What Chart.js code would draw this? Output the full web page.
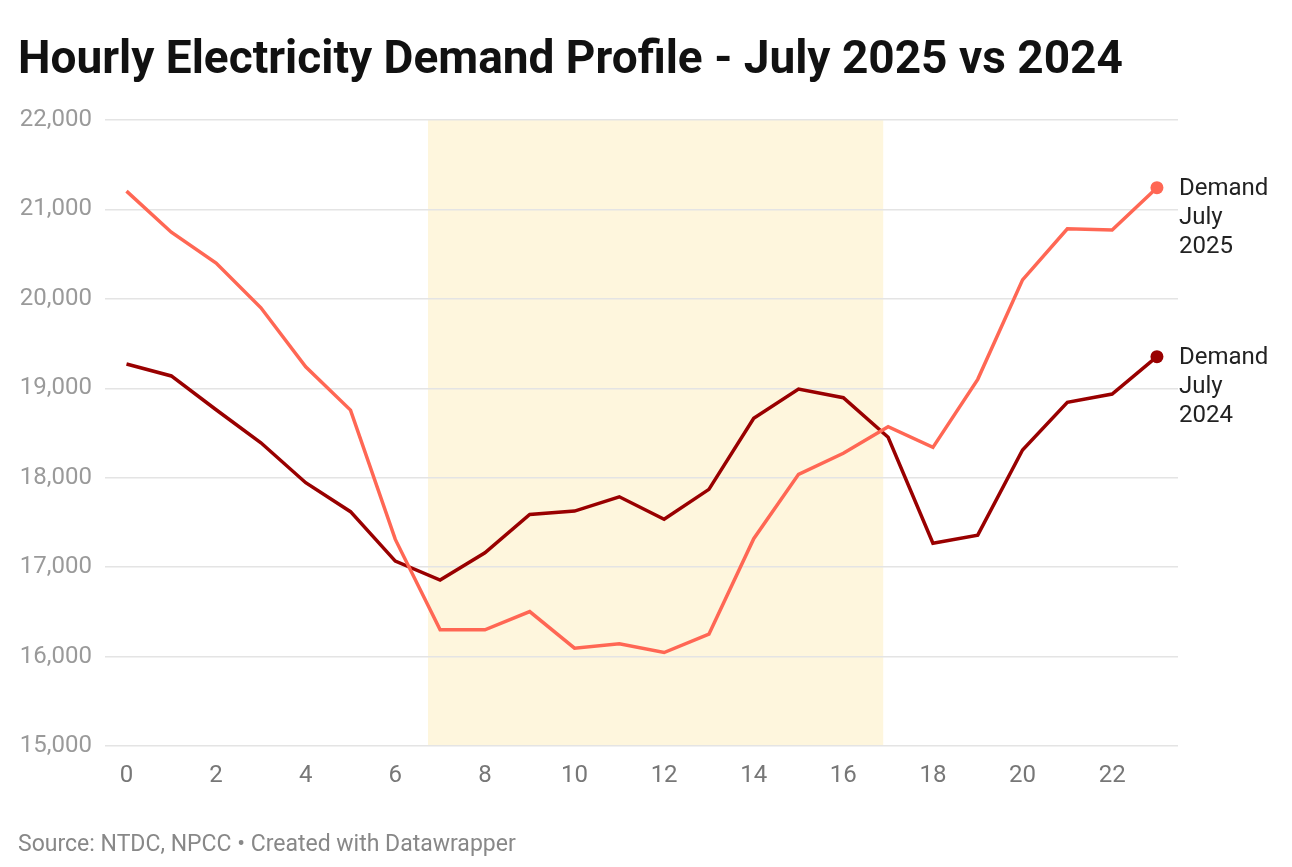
<!DOCTYPE html>
<html>
<head>
<meta charset="utf-8">
<script src="https://cdn.jsdelivr.net/npm/chart.js@4.4.1/dist/chart.umd.min.js"></script>
<style>
  body { margin: 0; background: #fff; font-family: Roboto, "Noto Sans", sans-serif; }
  #wrap { position: relative; width: 1292px; height: 867px; }
  #titulo { position: absolute; left: 18px; top: 34px; font-size: 46px; line-height: 46px; font-weight: 700; color: #111; white-space: nowrap; }
  #fuente { position: absolute; left: 18px; top: 832px; font-size: 23px; line-height: 23px; color: #888; white-space: nowrap; }
  canvas { position: absolute; left: 0; top: 0; }
</style>
</head>
<body>
<div id="wrap">
  <canvas id="grafica" width="1292" height="867"></canvas>
  <div id="titulo">Hourly Electricity Demand Profile - July 2025 vs 2024</div>
  <div id="fuente">Source: NTDC, NPCC • Created with Datawrapper</div>
</div>
<script>
// datos
var horas = [0, 1, 2, 3, 4, 5, 6, 7, 8, 9, 10, 11, 12, 13, 14, 15, 16, 17, 18, 19, 20, 21, 22, 23];
var demanda2025 = [21205, 20745, 20400, 19900, 19240, 18756, 17310, 16299, 16299, 16503, 16094, 16142,
  16045, 16250, 17318, 18038, 18273, 18571, 18339, 19100, 20212, 20784, 20769, 21243];
var demanda2024 = [19272, 19138, 18760, 18391, 17944, 17620, 17068, 16855, 17161, 17590, 17627, 17787,
  17535, 17870, 18664, 18992, 18895, 18452, 17268, 17358, 18310, 18843, 18936, 19353];
var etiquetas2025 = ["Demand", "July", "2025"];
var etiquetas2024 = ["Demand", "July", "2024"];
var ticksX = [0, 2, 4, 6, 8, 10, 12, 14, 16, 18, 20, 22];
var ticksY = [15000, 16000, 17000, 18000, 19000, 20000, 21000, 22000];
var franjaInicio = 6.73; // zona sombreada
var franjaFin = 16.89;

var fuente = "Roboto, 'Noto Sans', sans-serif";

function puntos(valores) {
  return valores.map((v, i) => ({ x: horas[i], y: v }));
}

// solo el ultimo punto lleva circulo
function radioFinal(ctx) {
  return ctx.dataIndex === horas.length - 1 ? 6.5 : 0;
}

// franja amarilla de fondo
var pluginFranja = {
  id: "franja",
  beforeDraw(chart) {
    const { ctx, chartArea, scales } = chart;
    const x1 = scales.x.getPixelForValue(franjaInicio);
    const x2 = scales.x.getPixelForValue(franjaFin);
    ctx.save();
    ctx.fillStyle = "#fef6dd";
    ctx.fillRect(x1, chartArea.top, x2 - x1, chartArea.bottom - chartArea.top);
    ctx.restore();
  },
};

// etiquetas al final de cada linea
var pluginEtiquetas = {
  id: "etiquetas",
  afterDatasetsDraw(chart) {
    const ctx = chart.ctx;
    ctx.save();
    ctx.font = "24px " + fuente;
    ctx.fillStyle = "#222";
    ctx.textBaseline = "middle";
    chart.data.datasets.forEach((ds, i) => {
      const meta = chart.getDatasetMeta(i);
      const ultimo = meta.data[meta.data.length - 1];
      ds.etiquetas.forEach((linea, j) => {
        ctx.fillText(linea, ultimo.x + 22, ultimo.y + 1 + j * 29);
      });
    });
    ctx.restore();
  },
};

var ctx = document.getElementById("grafica").getContext("2d");

new Chart(ctx, {
  type: "line",
  data: {
    datasets: [
      {
        label: "Demand July 2025",
        data: puntos(demanda2025),
        borderColor: "#ff6754",
        backgroundColor: "#ff6754",
        borderWidth: 3.5,
        pointRadius: radioFinal,
        pointHoverRadius: radioFinal,
        pointBorderWidth: 0,
        tension: 0,
        etiquetas: etiquetas2025,
      },
      {
        label: "Demand July 2024",
        data: puntos(demanda2024),
        borderColor: "#990000",
        backgroundColor: "#990000",
        borderWidth: 3.5,
        pointRadius: radioFinal,
        pointHoverRadius: radioFinal,
        pointBorderWidth: 0,
        tension: 0,
        etiquetas: etiquetas2024,
      },
    ],
  },
  options: {
    responsive: false,
    animation: false,
    layout: { padding: { top: 120, right: 114, bottom: 71, left: 0 } },
    plugins: {
      legend: { display: false },
      tooltip: { enabled: false },
    },
    scales: {
      x: {
        type: "linear",
        min: -0.48,
        max: 23.47,
        afterBuildTicks: (scale) => {
          scale.ticks = ticksX.map((v) => ({ value: v }));
        },
        afterFit: (scale) => {
          scale.height = 50;
        },
        grid: { display: false, drawTicks: false },
        border: { display: false },
        ticks: {
          padding: 16,
          color: "#777",
          font: { family: fuente, size: 24 },
          maxRotation: 0,
          callback: (v) => v,
        },
      },
      y: {
        min: 15000,
        max: 22000,
        afterBuildTicks: (scale) => {
          scale.ticks = ticksY.map((v) => ({ value: v }));
        },
        afterFit: (scale) => {
          scale.width = 105;
        },
        grid: { color: "#e4e4e4", lineWidth: 1.5, drawTicks: false },
        border: { display: false },
        ticks: {
          padding: 13,
          color: "#9a9a9a",
          font: { family: fuente, size: 24 },
          callback: (v) => v.toLocaleString("en-US"),
        },
      },
    },
  },
  plugins: [pluginFranja, pluginEtiquetas],
});
</script>
</body>
</html>
